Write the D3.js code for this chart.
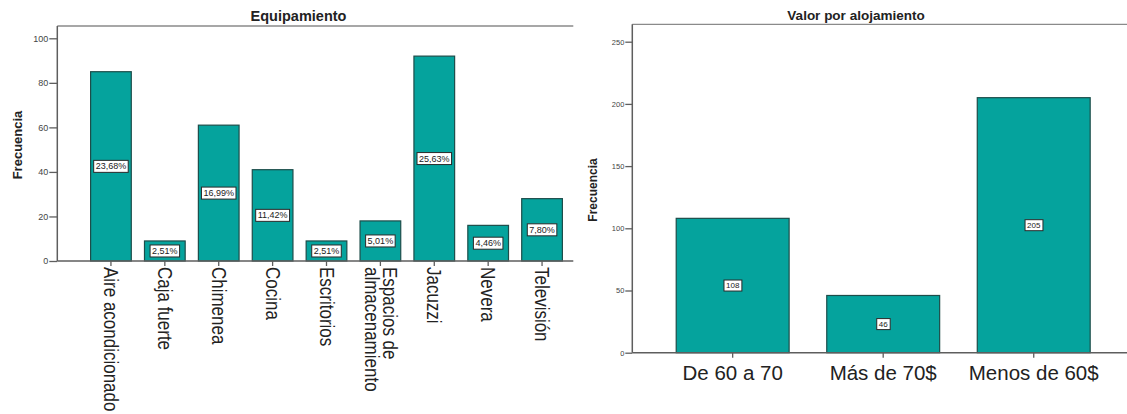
<!DOCTYPE html>
<html>
<head>
<meta charset="utf-8">
<script src="https://cdn.jsdelivr.net/npm/d3@7"></script>
<style>
  html, body { margin: 0; padding: 0; background: #fff; }
  svg { display: block; font-family: "Liberation Sans", Arial, sans-serif; }
</style>
</head>
<body>
<svg id="chart" width="1127" height="414"></svg>
<script>
// Equipamiento: frequency per amenity
const equipCategories = ["Aire acondicionado", "Caja fuerte", "Chimenea", "Cocina", "Escritorios",
  "Espacios de\nalmacenamiento", "Jacuzzi", "Nevera", "Televisión"];
const equipValues = [85, 9, 61, 41, 9, 18, 92, 16, 28];
const equipLabels = ["23,68%", "2,51%", "16,99%", "11,42%", "2,51%", "5,01%", "25,63%", "4,46%", "7,80%"];
const equipTicks = [0, 20, 40, 60, 80, 100];

// Valor por alojamiento: frequency per price range
const valorCategories = ["De 60 a 70", "Más de 70$", "Menos de 60$"];
const valorValues = [108, 46, 205];
const valorLabels = ["108", "46", "205"];
const valorTicks = [0, 50, 100, 150, 200, 250];

const BAR_FILL = "#05a39d";
const BAR_STROKE = "#1d4d4a";
const AXIS = "#5e5e5e";
const TEXT = "#222";

const svg = d3.select("#chart");

function valueBox(g, cx, cy, text, size) {
  const grp = g.append("g");
  const t = grp.append("text")
    .attr("x", cx).attr("y", cy)
    .attr("text-anchor", "middle")
    .attr("dominant-baseline", "central")
    .attr("font-size", size)
    .attr("fill", TEXT)
    .text(text);
  const bb = t.node().getBBox();
  grp.insert("rect", "text")
    .attr("x", bb.x - 2).attr("y", bb.y - 1)
    .attr("width", bb.width + 4).attr("height", bb.height + 2)
    .attr("fill", "#fff")
    .attr("stroke", "#2a2a2a")
    .attr("stroke-width", 1);
}

function drawChart(opt) {
  const g = svg.append("g");
  const x = d3.scaleBand().domain(opt.categories).range(opt.xRange)
    .paddingInner(opt.padding).paddingOuter(opt.padding / 2);
  const y = d3.scaleLinear().domain([0, opt.ticks[opt.ticks.length - 1]]).range(opt.yRange);

  // frame: top rule, left and bottom axes
  g.append("line").attr("x1", opt.left).attr("x2", opt.right)
    .attr("y1", opt.top).attr("y2", opt.top)
    .attr("stroke", "#8a8a8a").attr("stroke-width", 1.3);

  // bars
  g.selectAll("rect.bar").data(opt.values).join("rect")
    .attr("class", "bar")
    .attr("x", (d, i) => x(opt.categories[i]))
    .attr("width", x.bandwidth())
    .attr("y", d => y(d))
    .attr("height", d => y(0) - y(d))
    .attr("fill", BAR_FILL)
    .attr("stroke", BAR_STROKE)
    .attr("stroke-width", 1.2);

  // y axis
  const ya = g.append("g").attr("transform", `translate(${opt.left},0)`)
    .call(d3.axisLeft(y).tickValues(opt.ticks).tickSize(opt.tickSize).tickPadding(1));
  ya.select(".domain").remove();
  ya.selectAll(".tick line").attr("stroke", AXIS).attr("stroke-width", 1.3);
  ya.selectAll(".tick text").attr("font-size", opt.yTickFont).attr("fill", "#444")
    .attr("font-family", "Liberation Sans, Arial, sans-serif");
  g.append("line").attr("x1", opt.left).attr("x2", opt.left)
    .attr("y1", opt.top).attr("y2", y(0))
    .attr("stroke", AXIS).attr("stroke-width", 1.5);

  // x axis
  const xa = g.append("g").attr("transform", `translate(0,${y(0)})`)
    .call(d3.axisBottom(x).tickSize(5).tickFormat(""));
  xa.select(".domain").remove();
  xa.selectAll(".tick line").attr("stroke", AXIS).attr("stroke-width", 1.3);
  g.append("line").attr("x1", opt.left).attr("x2", opt.right)
    .attr("y1", y(0)).attr("y2", y(0))
    .attr("stroke", AXIS).attr("stroke-width", 1.5);

  // value labels at bar middles
  opt.values.forEach((v, i) => {
    const cx = x(opt.categories[i]) + x.bandwidth() / 2;
    valueBox(g, cx, y(v / 2), opt.labels[i], opt.valueFont);
  });

  // title
  g.append("text").attr("x", opt.titleX).attr("y", opt.titleY)
    .attr("text-anchor", "middle").attr("font-weight", "bold")
    .attr("font-size", opt.titleFont).attr("fill", TEXT).text(opt.title);

  // y axis title
  g.append("text")
    .attr("transform", `translate(${opt.yTitleX},${opt.yTitleY}) rotate(-90)`)
    .attr("text-anchor", "middle").attr("dominant-baseline", "central")
    .attr("font-weight", "bold").attr("font-size", opt.yTitleFont)
    .attr("fill", TEXT).text("Frecuencia");

  return { g, x, y };
}

// Left chart
const left = drawChart({
  categories: equipCategories, values: equipValues, labels: equipLabels, ticks: equipTicks,
  xRange: [84, 569], padding: 0.245, yRange: [261, 38.3],
  left: 57.3, right: 573.3, top: 26, tickSize: 8, yTickFont: 9, valueFont: 9,
  title: "Equipamiento", titleX: 298.5, titleY: 21, titleFont: 14.5,
  yTitleX: 17, yTitleY: 145, yTitleFont: 13
});

// rotated category labels under the left chart (slightly tall glyphs)
left.g.selectAll("text.cat").data(equipCategories).join("text")
  .attr("class", "cat")
  .attr("transform", d => `translate(${left.x(d) + left.x.bandwidth() / 2},${left.y(0) + 6}) rotate(90) scale(1,1.15)`)
  .attr("font-size", 17).attr("fill", TEXT)
  .each(function (d) {
    const lines = d.split("\n");
    const t = d3.select(this);
    lines.forEach((line, k) => {
      t.append("tspan").attr("x", 0)
        .attr("dy", k === 0 ? `${0.35 - (lines.length - 1) * 0.5}em` : "0.95em")
        .text(line);
    });
  });

// Right chart
const right = drawChart({
  categories: valorCategories, values: valorValues, labels: valorLabels, ticks: valorTicks,
  xRange: [657.4, 1109], padding: 0.25, yRange: [352.7, 41.7],
  left: 632.3, right: 1127, top: 24.3, tickSize: 7, yTickFont: 7.5, valueFont: 8,
  title: "Valor por alojamiento", titleX: 856, titleY: 20, titleFont: 13.5,
  yTitleX: 593, yTitleY: 190, yTitleFont: 12
});

right.g.selectAll("text.cat").data(valorCategories).join("text")
  .attr("class", "cat")
  .attr("x", d => right.x(d) + right.x.bandwidth() / 2)
  .attr("y", 380)
  .attr("text-anchor", "middle")
  .attr("font-size", 20.5).attr("fill", TEXT)
  .text(d => d);
</script>
</body>
</html>
